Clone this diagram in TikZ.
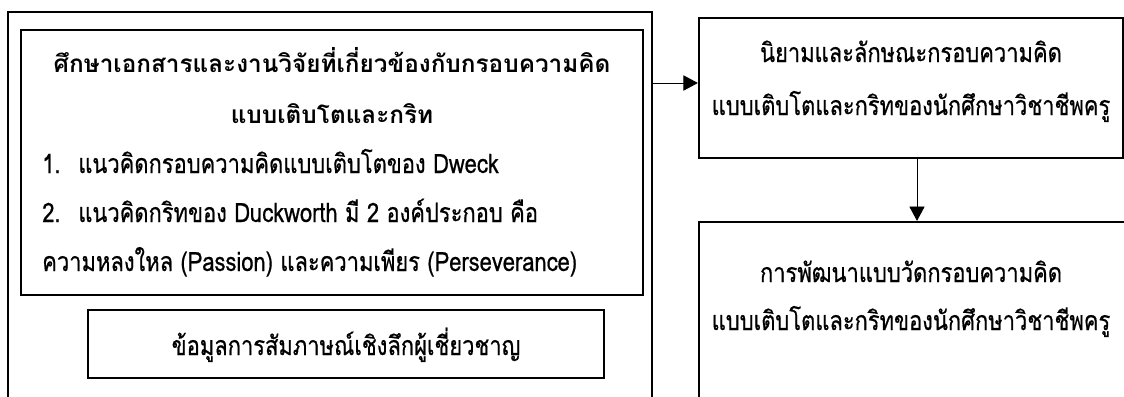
\documentclass[tikz,border=0pt]{standalone}
\usepackage{fontspec}
\setmainfont{Loma}[Script=Thai, FakeStretch=0.82, FakeBold=0.6]
\newfontfamily\headfont{Loma}[Script=Thai]
\usetikzlibrary{arrows.meta}

\tikzset{
  box/.style={draw, line width=1.5pt, inner sep=0pt},
  txt/.style={anchor=base, inner sep=0pt, font=\fontsize{19}{22}\selectfont},
  head/.style={txt, font=\headfont\fontsize{17.3}{22}\selectfont\bfseries},
  flow/.style={-{Triangle[length=3.6mm,width=3.8mm]}, line width=0.6pt},
}

\begin{document}
\begin{tikzpicture}[x=0.025cm, y=-0.025cm]

\useasboundingbox (0,0) rectangle (1124,396);

% left side
\node[box, minimum width=16.1cm, minimum height=10.5cm] (study) at (330,222) {};
\node[box, minimum width=15.55cm, minimum height=6.625cm] (docs) at (332,162.5) {};
\node[box, minimum width=12.9cm, minimum height=1.7cm] (expert) at (346,344) {};

\node[head] (t1) at (332,72) {ศึกษาเอกสารและงานวิจัยที่เกี่ยวข้องกับกรอบความคิด};
\node[head] (t2) at (332,123) {แบบเติบโตและกริท};
\node[txt, anchor=base west] (n1) at (42,173) {1.};
\node[txt, anchor=base west] (i1) at (78,173) {แนวคิดกรอบความคิดแบบเติบโตของ Dweck};
\node[txt, anchor=base west] (n2) at (42,222) {2.};
\node[txt, anchor=base west] (i2) at (78,222) {แนวคิดกริทของ Duckworth มี 2 องค์ประกอบ คือ};
\node[txt, anchor=base west] (i3) at (42,271) {ความหลงใหล (Passion) และความเพียร (Perseverance)};
\node[txt] (e1) at (346,355) {ข้อมูลการสัมภาษณ์เชิงลึกผู้เชี่ยวชาญ};

% right side
\node[box, minimum width=10.6cm, minimum height=3.5cm] (define) at (911,88) {};
\node[box, minimum width=10.9cm, minimum height=5.2cm] (develop) at (917,326) {};

\node[txt] (d1) at (911,62) {นิยามและลักษณะกรอบความคิด};
\node[txt] (d2) at (911,115) {แบบเติบโตและกริทของนักศึกษาวิชาชีพครู};
\node[txt] (m1) at (911,282) {การพัฒนาแบบวัดกรอบความคิด};
\node[txt] (m2) at (911,330) {แบบเติบโตและกริทของนักศึกษาวิชาชีพครู};

\draw[flow] (study.east |- 0,83) -- (define.west |- 0,83);
\draw[flow] (define.south -| develop.north) -- (develop.north);

\end{tikzpicture}
\end{document}
